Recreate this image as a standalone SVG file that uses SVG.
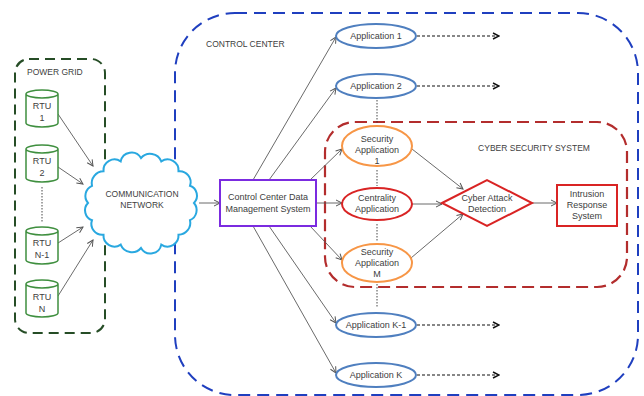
<svg xmlns="http://www.w3.org/2000/svg" width="644" height="396" viewBox="0 0 644 396">
<defs>
<style>
text{font-family:"Liberation Sans",Arial,sans-serif;font-size:9px;fill:#404040;text-anchor:middle}
.cap{font-size:8.5px}
.lbl{text-anchor:start}
.rtu{fill:#fff;stroke:#3f8f3f;stroke-width:1.5}
.app{fill:#fff;stroke:#4f7fbf;stroke-width:2}
.sec{fill:#fff;stroke:#f79646;stroke-width:2}
.red{fill:#fff;stroke:#d92424;stroke-width:2}
.conn{stroke:#595959;stroke-width:0.9;fill:none;marker-end:url(#arr)}
.dconn{stroke:#111;stroke-width:1.2;stroke-dasharray:3 2;fill:none;marker-end:url(#darr)}
.dot{stroke:#333;stroke-width:0.9;stroke-dasharray:1.5 1.5;fill:none}
</style>
<marker id="arr" viewBox="0 0 8 8" refX="7" refY="4" markerWidth="8" markerHeight="8" markerUnits="userSpaceOnUse" orient="auto"><path d="M1,1 L7,4 L1,7" fill="none" stroke="#555" stroke-width="1"/></marker>
<marker id="darr" viewBox="0 0 8 8" refX="7" refY="4" markerWidth="8" markerHeight="8" markerUnits="userSpaceOnUse" orient="auto"><path d="M1,1 L7,4 L1,7" fill="none" stroke="#111" stroke-width="1.5"/></marker>
</defs>
<rect width="644" height="396" fill="#fff"/>

<g id="control-center">
<rect x="175" y="13" width="463" height="382" rx="60" fill="none" stroke="#1f3fbf" stroke-width="2" stroke-dasharray="12 7"/>
<text class="lbl cap" x="206" y="47">CONTROL CENTER</text>
</g>

<g id="power-grid">
<rect x="15" y="59" width="90" height="274" rx="14" fill="none" stroke="#264d26" stroke-width="2" stroke-dasharray="10 6"/>
<text class="lbl cap" x="27" y="75">POWER GRID</text>
</g>

<g id="cyber-security-system">
<rect x="325" y="122" width="302" height="165" rx="30" fill="none" stroke="#b32d2d" stroke-width="2.2" stroke-dasharray="12 6"/>
<text class="cap" x="534" y="151">CYBER SECURITY SYSTEM</text>
</g>

<g id="connectors">
<line class="conn" x1="58" y1="114" x2="93" y2="166"/>
<line class="conn" x1="58" y1="167" x2="83" y2="184"/>
<line class="conn" x1="58" y1="243" x2="83" y2="227"/>
<line class="conn" x1="58" y1="296" x2="93" y2="240"/>
<line class="dot" x1="42" y1="187" x2="42" y2="222"/>
<line class="conn" x1="199" y1="203" x2="220" y2="203"/>
<line class="conn" x1="253" y1="180" x2="336" y2="37"/>
<line class="conn" x1="269" y1="180" x2="336" y2="88"/>
<line class="conn" x1="310" y1="180" x2="342" y2="149"/>
<line class="conn" x1="316" y1="203" x2="342" y2="203"/>
<line class="conn" x1="310" y1="226" x2="342" y2="260"/>
<line class="conn" x1="269" y1="226" x2="336" y2="323"/>
<line class="conn" x1="253" y1="226" x2="336" y2="373"/>
<line class="conn" x1="412" y1="149" x2="463" y2="189"/>
<line class="conn" x1="412" y1="204" x2="442" y2="204"/>
<line class="conn" x1="411" y1="258" x2="463" y2="214"/>
<line class="conn" x1="532" y1="203" x2="557" y2="203"/>
<line class="dconn" x1="417" y1="36" x2="499" y2="36"/>
<line class="dconn" x1="417" y1="86" x2="499" y2="86"/>
<line class="dconn" x1="417" y1="325" x2="499" y2="325"/>
<line class="dconn" x1="417" y1="375" x2="499" y2="375"/>
<line class="dot" x1="377" y1="100" x2="377" y2="124"/>
<line class="dot" x1="377" y1="170" x2="377" y2="186"/>
<line class="dot" x1="377" y1="224" x2="377" y2="242"/>
<line class="dot" x1="377" y1="284" x2="377" y2="308"/>
</g>

<g id="rtu-1">
<path class="rtu" d="M26,94 a16,4 0 0 1 32,0 v29 a16,4 0 0 1 -32,0 z M26,94 a16,4 0 0 0 32,0"/>
<text x="42" y="109">RTU</text><text x="42" y="121">1</text>
</g>
<g id="rtu-2">
<path class="rtu" d="M26,149 a16,4 0 0 1 32,0 v29 a16,4 0 0 1 -32,0 z M26,149 a16,4 0 0 0 32,0"/>
<text x="42" y="164">RTU</text><text x="42" y="176">2</text>
</g>
<g id="rtu-n-1">
<path class="rtu" d="M26,231 a16,4 0 0 1 32,0 v29 a16,4 0 0 1 -32,0 z M26,231 a16,4 0 0 0 32,0"/>
<text x="42" y="246">RTU</text><text x="42" y="258">N-1</text>
</g>
<g id="rtu-n">
<path class="rtu" d="M26,284 a16,4 0 0 1 32,0 v29 a16,4 0 0 1 -32,0 z M26,284 a16,4 0 0 0 32,0"/>
<text x="42" y="300">RTU</text><text x="42" y="312">N</text>
</g>

<g id="communication-network">
<path d="M194,203 A11,11 0 0 1 190,220.2 A12,12 0 0 1 178.5,234.8 A11,11 0 0 1 161.3,244.6 A11,11 0 0 1 141,248 A12,12 0 0 1 120.7,244.6 A11,11 0 0 1 103.5,234.8 A11,11 0 0 1 92,220.2 A10.5,10.5 0 0 1 88,203 A11,11 0 0 1 92,185.8 A12,12 0 0 1 103.5,171.2 A11,11 0 0 1 120.7,161.4 A11,11 0 0 1 141,158 A12,12 0 0 1 161.3,161.4 A11,11 0 0 1 178.5,171.2 A11,11 0 0 1 190,185.8 A10.5,10.5 0 0 1 194,203 Z" fill="#fff" stroke="#29a8e0" stroke-width="2"/>
<text class="cap" x="142" y="197">COMMUNICATION</text>
<text class="cap" x="142" y="208">NETWORK</text>
</g>

<g id="ccdms">
<rect x="220" y="180" width="96" height="46" fill="#fff" stroke="#7b2be0" stroke-width="2"/>
<text x="268" y="200">Control Center Data</text>
<text x="268" y="212">Management System</text>
</g>

<g id="app-1"><ellipse class="app" cx="376" cy="36" rx="40" ry="12"/><text x="376" y="39">Application 1</text></g>
<g id="app-2"><ellipse class="app" cx="376" cy="86" rx="40" ry="12"/><text x="376" y="89">Application 2</text></g>
<g id="app-k-1"><ellipse class="app" cx="376" cy="325" rx="40" ry="12"/><text x="376" y="328">Application K-1</text></g>
<g id="app-k"><ellipse class="app" cx="376" cy="375" rx="40" ry="12"/><text x="376" y="378">Application K</text></g>

<g id="security-app-1"><ellipse class="sec" cx="377" cy="146" rx="35" ry="20"/>
<text x="377" y="142">Security</text><text x="377" y="153">Application</text><text x="377" y="164">1</text></g>
<g id="centrality-app"><ellipse class="red" cx="377" cy="204" rx="35" ry="16"/>
<text x="377" y="201">Centrality</text><text x="377" y="212">Application</text></g>
<g id="security-app-m"><ellipse class="sec" cx="377" cy="263" rx="35" ry="19"/>
<text x="377" y="255">Security</text><text x="377" y="266">Application</text><text x="377" y="277">M</text></g>

<g id="cyber-attack-detection"><polygon class="red" points="442,203 487,180 532,203 487,226"/>
<text x="487" y="201">Cyber Attack</text><text x="487" y="212">Detection</text></g>

<g id="intrusion-response"><rect class="red" x="557" y="185" width="60" height="41"/>
<text x="587" y="197">Intrusion</text><text x="587" y="208">Response</text><text x="587" y="219">System</text></g>
</svg>
